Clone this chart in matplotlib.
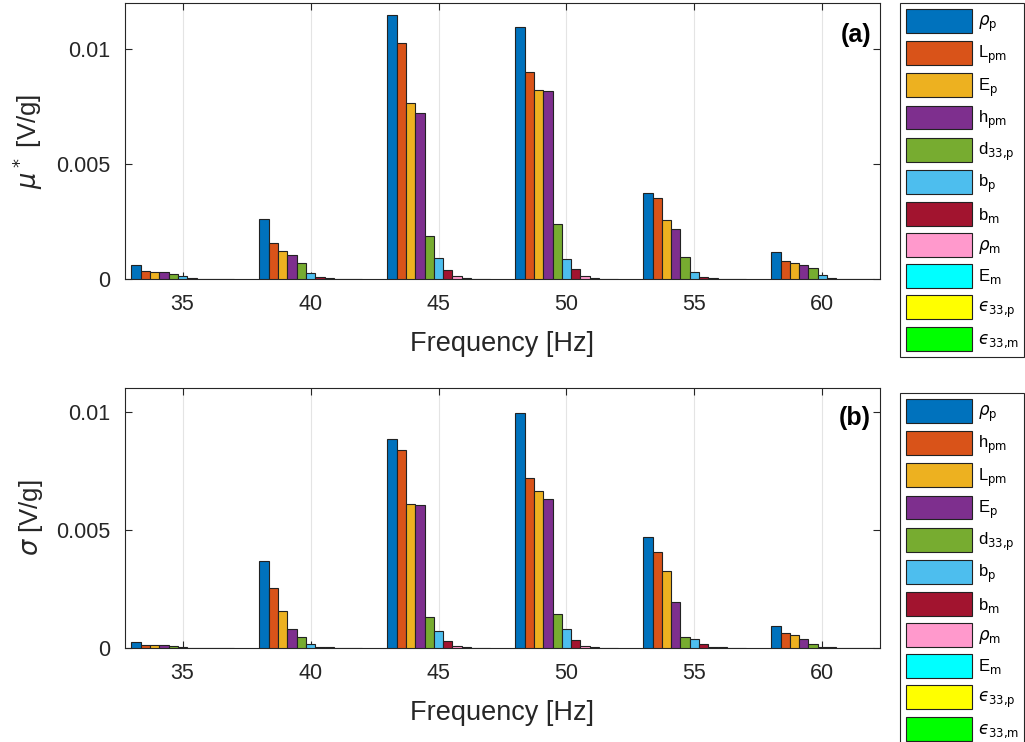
import numpy as np
import matplotlib.pyplot as plt
from matplotlib.patches import Patch

plt.rcParams['font.family'] = ['Liberation Sans', 'DejaVu Sans']

# frequencies of the bar groups
freq = [35, 40, 45, 50, 55, 60]

# panel (a): mu* [V/g], one list per parameter
labels_a = [r'$\rho_\mathrm{p}$', r'L$_\mathrm{pm}$', r'E$_\mathrm{p}$', r'h$_\mathrm{pm}$',
            r'd$_\mathrm{33{,}p}$', r'b$_\mathrm{p}$', r'b$_\mathrm{m}$', r'$\rho_\mathrm{m}$',
            r'E$_\mathrm{m}$', '$\u03f5_\\mathrm{33{,}p}$', '$\u03f5_\\mathrm{33{,}m}$']
mu_rho_p = [0.0006, 0.00263, 0.0115, 0.01096, 0.00375, 0.00116]
mu_L_pm = [0.00035, 0.00158, 0.01025, 0.0090, 0.00353, 0.0008]
mu_E_p = [0.0003, 0.00123, 0.00764, 0.00822, 0.00255, 0.0007]
mu_h_pm = [0.0003, 0.00106, 0.00723, 0.00819, 0.00217, 0.00061]
mu_d33p = [0.0002, 0.00068, 0.00187, 0.0024, 0.00096, 0.0005]
mu_b_p = [0.00015, 0.00028, 0.0009, 0.00088, 0.0003, 0.00016]
mu_b_m = [0.00004, 0.00008, 0.00038, 0.00045, 0.0001, 0.00004]
mu_rho_m = [0.00002, 0.00004, 0.00013, 0.00014, 0.00004, 0.00002]
mu_E_m = [0.00001, 0.00002, 0.00005, 0.00005, 0.00002, 0.00001]
mu_eps_p = [0.000005, 0.00001, 0.00002, 0.00002, 0.00001, 0.000005]
mu_eps_m = [0.000005, 0.000005, 0.00001, 0.00001, 0.000005, 0.000005]

# panel (b): sigma [V/g]
labels_b = [r'$\rho_\mathrm{p}$', r'h$_\mathrm{pm}$', r'L$_\mathrm{pm}$', r'E$_\mathrm{p}$',
            r'd$_\mathrm{33{,}p}$', r'b$_\mathrm{p}$', r'b$_\mathrm{m}$', r'$\rho_\mathrm{m}$',
            r'E$_\mathrm{m}$', '$\u03f5_\\mathrm{33{,}p}$', '$\u03f5_\\mathrm{33{,}m}$']
sg_rho_p = [0.00024, 0.00369, 0.00885, 0.00993, 0.00469, 0.00094]
sg_h_pm = [0.00014, 0.00252, 0.00838, 0.0072, 0.00408, 0.00065]
sg_L_pm = [0.00013, 0.00155, 0.0061, 0.00665, 0.00324, 0.00056]
sg_E_p = [0.00011, 0.0008, 0.00606, 0.0063, 0.00193, 0.00039]
sg_d33p = [0.00007, 0.00046, 0.0013, 0.00144, 0.00045, 0.00017]
sg_b_p = [0.00005, 0.00017, 0.0007, 0.00079, 0.0004, 0.00006]
sg_b_m = [0.00002, 0.00005, 0.00031, 0.00032, 0.00018, 0.00004]
sg_rho_m = [0.00001, 0.00003, 0.00008, 0.00008, 0.00003, 0.00002]
sg_E_m = [0.00001, 0.00002, 0.00004, 0.00004, 0.00003, 0.00001]
sg_eps_p = [0.000005, 0.00001, 0.00002, 0.00002, 0.00001, 0.000005]
sg_eps_m = [0.000005, 0.000005, 0.00001, 0.00001, 0.000005, 0.000005]

colors = ['#0072BD', '#D95319', '#EDB120', '#7E2F8E', '#77AC30', '#4DBEEE',
          '#A2142F', '#FF99CC', '#00FFFF', '#FFFF00', '#00FF00']

series_a = [mu_rho_p, mu_L_pm, mu_E_p, mu_h_pm, mu_d33p, mu_b_p, mu_b_m,
            mu_rho_m, mu_E_m, mu_eps_p, mu_eps_m]
series_b = [sg_rho_p, sg_h_pm, sg_L_pm, sg_E_p, sg_d33p, sg_b_p, sg_b_m,
            sg_rho_m, sg_E_m, sg_eps_p, sg_eps_m]

fig = plt.figure(figsize=(10.25, 7.42), dpi=100)
ax_a = fig.add_axes([125/1025, 1-279/742, 755/1025, 276/742])
ax_b = fig.add_axes([125/1025, 1-648/742, 755/1025, 260/742])


def draw(ax, series, labels, ymax, ylabel, tag, legend_top):
    n = len(series)
    step = 0.8 * 5 / n
    x = np.array(freq, dtype=float)
    for i, vals in enumerate(series):
        off = (i - (n - 1) / 2) * step
        ax.bar(x + off, vals, width=step, color=colors[i], edgecolor='#222222',
               linewidth=0.8, zorder=3)
    ax.set_xlim(32.75, 62.25)
    ax.set_ylim(0, ymax)
    ax.set_xticks(freq)
    ax.set_yticks([0, 0.005, 0.01])
    ax.set_yticklabels(['0', '0.005', '0.01'])
    ax.grid(axis='x', color='#e4e4e4', linewidth=0.8, zorder=0)
    ax.tick_params(direction='in', top=True, right=True, labelsize=15.5,
                   colors='#262626', length=5, width=0.8)
    ax.tick_params(axis='x', pad=11)
    ax.tick_params(axis='y', pad=10.5)
    for s in ax.spines.values():
        s.set_color('#262626')
        s.set_linewidth(0.8)
    ax.set_xlabel('Frequency [Hz]', fontsize=19.5, color='#262626', labelpad=11)
    ax.set_ylabel(ylabel, fontsize=18.5, color='#262626', labelpad=8)
    ax.text(0.988, 0.885, tag, transform=ax.transAxes, ha='right', va='center',
            fontsize=18, fontweight='bold')
    handles = [Patch(facecolor=colors[i], edgecolor='#222222', linewidth=0.8,
                     label=labels[i]) for i in range(n)]
    leg = fig.legend(handles=handles, loc='upper left',
                     bbox_to_anchor=(900/1025, legend_top), fontsize=12,
                     handlelength=3.95, handleheight=1.82, labelspacing=0.42,
                     handletextpad=0.35, borderpad=0.35, borderaxespad=0,
                     fancybox=False, edgecolor='#262626', framealpha=1)
    leg.get_frame().set_linewidth(0.8)


draw(ax_a, series_a, labels_a, 0.012, r'$\mu^*$ [V/g]', '(a)', 1-3/742)
draw(ax_b, series_b, labels_b, 0.011, r'$\sigma$ [V/g]', '(b)', 1-393/742)

fig.savefig('out.png', dpi=100)
